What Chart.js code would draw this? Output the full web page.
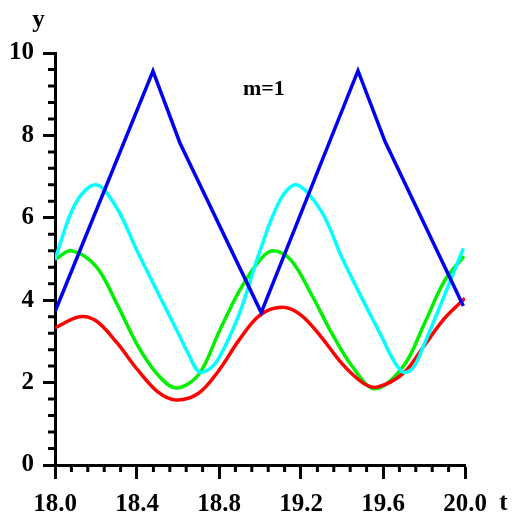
<!DOCTYPE html>
<html>
<head>
<meta charset="utf-8">
<script src="https://cdn.jsdelivr.net/npm/chart.js@4/dist/chart.umd.min.js"></script>
<style>
  html, body { margin: 0; padding: 0; background: #fff; }
  #wrap { width: 512px; height: 518px; }
</style>
</head>
<body>
<div id="wrap"><canvas id="chartM1"></canvas></div>
<script>
// values
var blueT = [18.0, 18.478, 18.61, 19.006, 19.478, 19.61, 19.992];
var blueY = [3.72, 9.56, 7.81, 3.70, 9.57, 7.85, 3.86];

var cyanT = [18.0, 18.1, 18.2, 18.3, 18.4, 18.5, 18.6, 18.65, 18.7, 18.75, 18.8, 18.9, 19.0, 19.1, 19.18, 19.3, 19.4, 19.5, 19.6, 19.65, 19.7, 19.75, 19.8, 19.9, 19.992];
var cyanY = [4.99, 6.35, 6.80, 6.25, 5.20, 4.20, 3.21, 2.70, 2.27, 2.32, 2.60, 3.68, 5.20, 6.45, 6.80, 6.15, 5.03, 4.02, 3.05, 2.55, 2.25, 2.38, 2.92, 4.12, 5.26];

var greenT = [18.0, 18.08, 18.2, 18.3, 18.4, 18.5, 18.59, 18.7, 18.8, 18.9, 19.0, 19.065, 19.15, 19.25, 19.35, 19.45, 19.56, 19.7, 19.8, 19.9, 19.995];
var greenY = [4.99, 5.20, 4.82, 3.93, 2.93, 2.20, 1.87, 2.19, 3.23, 4.23, 4.98, 5.20, 4.98, 4.15, 3.20, 2.39, 1.85, 2.40, 3.41, 4.47, 5.07];

var redT = [18.0, 18.12, 18.2, 18.3, 18.4, 18.5, 18.59, 18.7, 18.8, 18.9, 19.0, 19.11, 19.2, 19.3, 19.4, 19.5, 19.57, 19.7, 19.8, 19.9, 20.0];
var redY = [3.33, 3.60, 3.50, 2.98, 2.33, 1.78, 1.58, 1.74, 2.30, 3.05, 3.64, 3.83, 3.64, 3.10, 2.46, 2.00, 1.89, 2.23, 2.89, 3.56, 4.05];

var xTicks = [18.0, 18.4, 18.8, 19.2, 19.6, 20.0];
var yTicks = [0, 2, 4, 6, 8, 10];

var FONT = 'Liberation Serif, Times New Roman, serif';

function toPoints(ts, ys) {
    var pts = [];
    for (var i = 0; i < ts.length; i++) pts.push({x: ts[i], y: ys[i]});
    return pts;
}

// minor ticks + axis letters + m=1
var extrasPlugin = {
    id: 'extras',
    afterDraw: function(chart) {
        var ctx = chart.ctx;
        var xs = chart.scales.x, ys = chart.scales.y;
        var area = chart.chartArea;
        ctx.save();
        ctx.strokeStyle = '#000';
        ctx.lineWidth = 3;
        ctx.beginPath();
        for (var i = 0; i <= 25; i++) {
            if (i % 5 === 0) continue;
            var py = ys.getPixelForValue(i * 0.4);
            ctx.moveTo(area.left - 7, py);
            ctx.lineTo(area.left, py);
        }
        for (var j = 0; j <= 25; j++) {
            if (j % 5 === 0) continue;
            var px = xs.getPixelForValue(18 + j * 0.08);
            ctx.moveTo(px, area.bottom);
            ctx.lineTo(px, area.bottom + 7);
        }
        ctx.stroke();

        ctx.fillStyle = '#000';
        ctx.font = 'bold 25px ' + FONT;
        ctx.textAlign = 'center';
        ctx.textBaseline = 'alphabetic';
        ctx.fillText('y', 38.5, 27);
        ctx.fillText('t', 503.5, 510);
        ctx.font = 'bold 22px ' + FONT;
        ctx.textAlign = 'left';
        ctx.fillText('m=1', 243, 95);
        ctx.restore();
    }
};

var lineBase = {
    showLine: true,
    pointRadius: 0,
    borderWidth: 3.5,
    fill: false
};

var chartData = {
    datasets: [
        Object.assign({label: 'blue', data: toPoints(blueT, blueY), borderColor: '#0000f0', tension: 0}, lineBase),
        Object.assign({label: 'cyan', data: toPoints(cyanT, cyanY), borderColor: '#00ffff', tension: 0.35}, lineBase),
        Object.assign({label: 'red', data: toPoints(redT, redY), borderColor: '#ff0000', tension: 0.35}, lineBase),
        Object.assign({label: 'green', data: toPoints(greenT, greenY), borderColor: '#00f000', tension: 0.35}, lineBase)
    ]
};

var ctx = document.getElementById('chartM1');
var myChartM1 = new Chart(ctx, {
    type: 'scatter',
    data: chartData,
    plugins: [extrasPlugin],
    options: {
        responsive: true,
        maintainAspectRatio: false,
        animation: false,
        layout: { padding: { top: 53, right: 47, left: 0, bottom: 0 } },
        plugins: {
            legend: { display: false },
            tooltip: { enabled: false }
        },
        scales: {
            x: {
                type: 'linear',
                min: 18, max: 20,
                afterFit: function(scale) { scale.height = 53; },
                afterBuildTicks: function(scale) {
                    scale.ticks = xTicks.map(function(v) { return {value: v}; });
                },
                border: { display: true, color: '#000', width: 3 },
                grid: { drawOnChartArea: false, drawTicks: true, tickLength: 14, tickWidth: 3, tickColor: '#000' },
                ticks: {
                    color: '#000',
                    padding: 11,
                    maxRotation: 0,
                    font: { family: FONT, size: 25, weight: 'bold' },
                    callback: function(v) { return Number(v).toFixed(1); }
                }
            },
            y: {
                type: 'linear',
                min: 0, max: 10,
                afterFit: function(scale) { scale.width = 55; },
                afterBuildTicks: function(scale) {
                    scale.ticks = yTicks.map(function(v) { return {value: v}; });
                },
                border: { display: true, color: '#000', width: 3 },
                grid: { drawOnChartArea: false, drawTicks: true, tickLength: 12, tickWidth: 3, tickColor: '#000' },
                ticks: {
                    color: '#000',
                    padding: 9,
                    font: { family: FONT, size: 25, weight: 'bold' },
                    callback: function(v) { return String(v); }
                }
            }
        }
    }
});
</script>
</body>
</html>
